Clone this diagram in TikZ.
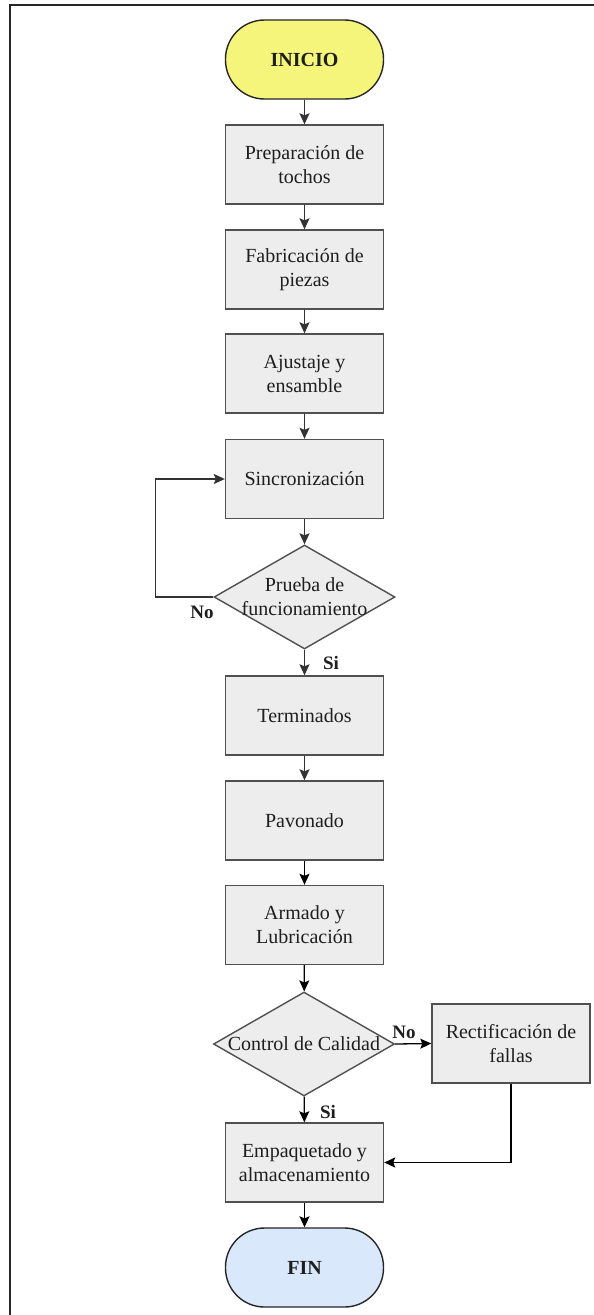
\documentclass[tikz,border=0pt]{standalone}
\usepackage{fontspec}
\setmainfont{Liberation Serif}
\usetikzlibrary{shapes.geometric,arrows.meta}
\definecolor{procfill}{HTML}{EDEDED}
\definecolor{edgegray}{HTML}{505050}
\definecolor{startfill}{HTML}{F5F57C}
\definecolor{endfill}{HTML}{DAE8FC}
\definecolor{arrowgray}{HTML}{333333}
\definecolor{textdark}{HTML}{1E1E1E}
\begin{document}
\begin{tikzpicture}[x=1pt,y=-1pt,
  font=\fontsize{20}{24}\selectfont,
  proc/.style={draw=edgegray, fill=procfill, line width=1.4pt,
    minimum width=158pt, minimum height=79pt, align=center,
    inner sep=2pt, text=textdark},
  term/.style={proc, draw=black!85, rounded corners=39pt},
  dec/.style={draw=edgegray, fill=procfill, line width=1.4pt, diamond,
    minimum width=181pt, minimum height=104pt, inner sep=0pt},
  dectext/.style={font=\fontsize{20}{24}\selectfont, align=center, text=textdark},
  flow/.style={draw=arrowgray, line width=1.3pt,
    -{Stealth[length=11pt,width=10pt,inset=2pt]}},
  tag/.style={font=\fontsize{19}{22}\selectfont\bfseries, text=textdark}
]
\useasboundingbox (0,0) rectangle (594,1315);
% outer frame
\draw[line width=2pt, black!85] (10,1315) -- (10,5) -- (594,5);

% main column
\node[term, fill=startfill] (inicio) at (304.5,59.5) {\textbf{INICIO}};
\node[proc] (prep) at (304.5,164.5) {Preparación de\\tochos};
\node[proc] (fab)  at (304.5,269.5) {Fabricación de\\piezas};
\node[proc] (ajus) at (304.5,373.5) {Ajustaje y\\ensamble};
\node[proc] (sinc) at (304.5,479) {Sincronización};
\node[dec, label={[dectext]center:{Prueba de\\funcionamiento}}] (prueba) at (304.5,597) {};
\node[proc] (term) at (304.5,715.5) {Terminados};
\node[proc] (pav)  at (304.5,820.5) {Pavonado};
\node[proc] (arm)  at (304.5,925) {Armado y\\Lubricación};
\node[dec, label={[dectext]center:{Control de Calidad}}] (control) at (304,1044) {};
\node[proc] (rect) at (511,1043.5) {Rectificación de\\fallas};
\node[proc] (emp)  at (304.5,1162.5) {Empaquetado y\\almacenamiento};
\node[term, fill=endfill] (fin) at (304.5,1267.5) {\textbf{FIN}};

% connectors
\draw[flow] (inicio) -- (prep);
\draw[flow] (prep) -- (fab);
\draw[flow] (fab) -- (ajus);
\draw[flow] (ajus) -- (sinc);
\draw[flow] (sinc) -- (prueba);
\draw[flow] (prueba.west) -- ++(-58,0) |- (sinc.west);
\draw[flow] (prueba) -- (term);
\draw[flow] (term) -- (pav);
\draw[flow, draw=black] (pav) -- (arm);
\draw[flow, draw=black] (arm) -- (control);
\draw[flow, draw=black] (control.east) -- (rect.west);
\draw[flow, draw=black] (control) -- (emp);
\draw[flow, draw=black] (rect.south) |- (emp.east);
\draw[flow, draw=black] (emp) -- (fin);

% branch labels
\node[tag] (no1) at (202,612) {No};
\node[tag] (si1) at (331,663) {Si};
\node[tag] (no2) at (404,1032) {No};
\node[tag] (si2) at (328,1112) {Si};
\end{tikzpicture}
\end{document}
